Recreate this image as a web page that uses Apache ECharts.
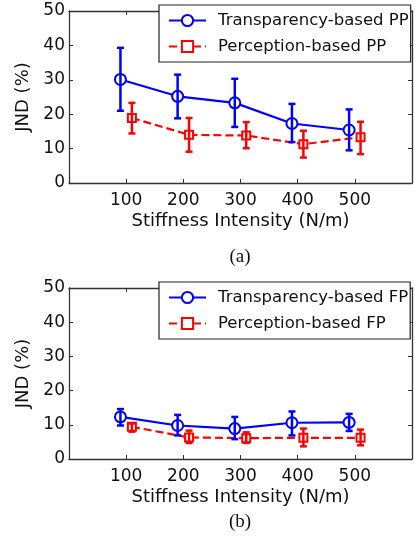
<!DOCTYPE html>
<html><head><meta charset="utf-8">
<script src="https://cdn.jsdelivr.net/npm/echarts@6/dist/echarts.min.js"></script>
<style>html,body{margin:0;padding:0;background:#fff}#c{width:415px;height:546px}</style>
</head><body><div id="c"></div>
<script>
// Data
const stiffness = [100, 200, 300, 400, 500];
const xTickLabels = ['100', '200', '300', '400', '500'];
const yTickLabels = [0, 10, 20, 30, 40, 50];
// (a) PP
const transPP = [30.1, 25.2, 23.3, 17.3, 15.4];
const transPPLow = [21.0, 18.8, 16.3, 11.9, 9.5];
const transPPHigh = [39.3, 31.5, 30.3, 23.0, 21.4];
const percPP = [18.9, 14.0, 13.8, 11.3, 13.3];
const percPPLow = [14.4, 9.1, 10.1, 7.4, 8.4];
const percPPHigh = [23.3, 18.9, 17.7, 15.2, 17.8];
// (b) FP
const transFP = [12.3, 9.8, 8.9, 10.6, 10.7];
const transFPLow = [9.8, 6.9, 5.8, 6.9, 8.2];
const transFPHigh = [14.6, 12.9, 12.3, 13.9, 13.2];
const percFP = [9.4, 6.3, 6.1, 6.2, 6.2];
const percFPLow = [8.0, 4.7, 4.7, 3.7, 4.0];
const percFPHigh = [10.4, 8.3, 7.8, 8.9, 8.6];
const xOffset = 10; // horizontal dodge of the two series, as in the figure

const BLUE = '#0000ff', RED = '#ff0000', FRAME = '#333';
const FONT = 'DejaVu Sans';

const chart = echarts.init(document.getElementById('c'), null, {renderer: 'canvas'});

function pts(vals, dx) { return stiffness.map((s, i) => [s + dx, vals[i]]); }
function errs(lo, hi, dx) { return stiffness.map((s, i) => [s + dx, lo[i], hi[i]]); }

function errSeries(idx, lo, hi, dx, color) {
  return {
    type: 'custom', xAxisIndex: idx * 2, yAxisIndex: idx * 2, z: 5,
    data: errs(lo, hi, dx), silent: true,
    renderItem: function (params, api) {
      const x = api.value(0);
      const p1 = api.coord([x, api.value(1)]);
      const p2 = api.coord([x, api.value(2)]);
      const w = 3.5;
      const st = {stroke: color, lineWidth: 2.5};
      return {type: 'group', children: [
        {type: 'line', shape: {x1: p1[0], y1: p1[1], x2: p2[0], y2: p2[1]}, style: st},
        {type: 'line', shape: {x1: p1[0] - w, y1: p1[1], x2: p1[0] + w, y2: p1[1]}, style: st},
        {type: 'line', shape: {x1: p2[0] - w, y1: p2[1], x2: p2[0] + w, y2: p2[1]}, style: st}
      ]};
    }
  };
}

function lineSeries(idx, name, vals, dx, color, sym, dashed) {
  return {
    type: 'line', name: name, xAxisIndex: idx * 2, yAxisIndex: idx * 2, z: 3,
    data: pts(vals, dx), symbol: sym, symbolSize: sym === 'emptyCircle' ? 11 : 8,
    showAllSymbol: true,
    lineStyle: {color: color, width: 2.2, type: dashed ? [8, 4] : 'solid'},
    itemStyle: {color: color, borderColor: color, borderWidth: 1.8},
    emphasis: {disabled: true}, animation: false
  };
}

const grids = [
  {left: 69, top: 11, width: 343, height: 172},
  {left: 69, top: 288, width: 343, height: 171}
];

const xAxes = [], yAxes = [];
grids.forEach((g, i) => {
  xAxes.push({
    type: 'value', gridIndex: i, min: 0, max: 600, interval: 100, position: 'bottom',
    name: 'Stiffness Intensity (N/m)', nameLocation: 'middle', nameGap: 29,
    nameTextStyle: {fontFamily: FONT, fontSize: 18, color: '#111'},
    axisLine: {show: true, onZero: false, lineStyle: {color: FRAME, width: 1.3}},
    axisTick: {show: true, inside: true, length: 4, lineStyle: {color: FRAME}},
    axisLabel: {fontFamily: FONT, fontSize: 17, color: '#111', margin: 9,
      formatter: v => xTickLabels.indexOf(String(v)) >= 0 ? String(v) : ''},
    splitLine: {show: false}
  });
  xAxes.push({
    type: 'value', gridIndex: i, min: 0, max: 600, interval: 100, position: 'top',
    axisLine: {show: true, onZero: false, lineStyle: {color: FRAME, width: 1.3}},
    axisTick: {show: true, inside: true, length: 4, lineStyle: {color: FRAME}},
    axisLabel: {show: false}, splitLine: {show: false}
  });
  yAxes.push({
    type: 'value', gridIndex: i, min: yTickLabels[0], max: yTickLabels[yTickLabels.length - 1], interval: 10,
    position: 'left',
    name: 'JND (%)', nameLocation: 'middle', nameGap: 33, nameRotate: 90,
    nameTextStyle: {fontFamily: FONT, fontSize: 18, color: '#111'},
    axisLine: {show: true, onZero: false, lineStyle: {color: FRAME, width: 1.3}},
    axisTick: {show: true, inside: true, length: 4, lineStyle: {color: FRAME}},
    axisLabel: {fontFamily: FONT, fontSize: 17, color: '#111', margin: 4},
    splitLine: {show: false}
  });
  yAxes.push({
    type: 'value', gridIndex: i, min: 0, max: 50, interval: 10, position: 'right',
    axisLine: {show: true, onZero: false, lineStyle: {color: FRAME, width: 1.3}},
    axisTick: {show: true, inside: true, length: 4, lineStyle: {color: FRAME}},
    axisLabel: {show: false}, splitLine: {show: false}
  });
});

function legend(top, names) {
  return {
    orient: 'vertical', left: 159, top: top, data: names,
    itemWidth: 37, itemHeight: 14, itemGap: 9,
    backgroundColor: '#fff', borderColor: '#222', borderWidth: 1.2,
    padding: [7, 2, 7, 9],
    textStyle: {fontFamily: FONT, fontSize: 16.5, color: '#111', padding: [0, 0, 0, 7]},
    selectedMode: false
  };
}

const option = {
  animation: false,
  backgroundColor: '#fff',
  grid: grids,
  xAxis: xAxes,
  yAxis: yAxes,
  legend: [
    legend(5, ['Transparency-based PP', 'Perception-based PP']),
    legend(282, ['Transparency-based FP', 'Perception-based FP'])
  ],
  title: [
    {text: '(a)', left: 240, top: 248, textAlign: 'center', padding: 0,
     textStyle: {fontFamily: 'Liberation Serif', fontSize: 19, fontWeight: 'normal', color: '#111'}},
    {text: '(b)', left: 240, top: 513, textAlign: 'center', padding: 0,
     textStyle: {fontFamily: 'Liberation Serif', fontSize: 19, fontWeight: 'normal', color: '#111'}}
  ],
  series: [
    lineSeries(0, 'Transparency-based PP', transPP, -xOffset, BLUE, 'emptyCircle', false),
    lineSeries(0, 'Perception-based PP', percPP, xOffset, RED, 'emptyRect', true),
    errSeries(0, transPPLow, transPPHigh, -xOffset, BLUE),
    errSeries(0, percPPLow, percPPHigh, xOffset, RED),
    lineSeries(1, 'Transparency-based FP', transFP, -xOffset, BLUE, 'emptyCircle', false),
    lineSeries(1, 'Perception-based FP', percFP, xOffset, RED, 'emptyRect', true),
    errSeries(1, transFPLow, transFPHigh, -xOffset, BLUE),
    errSeries(1, percFPLow, percFPHigh, xOffset, RED)
  ]
};
chart.setOption(option);
</script></body></html>
